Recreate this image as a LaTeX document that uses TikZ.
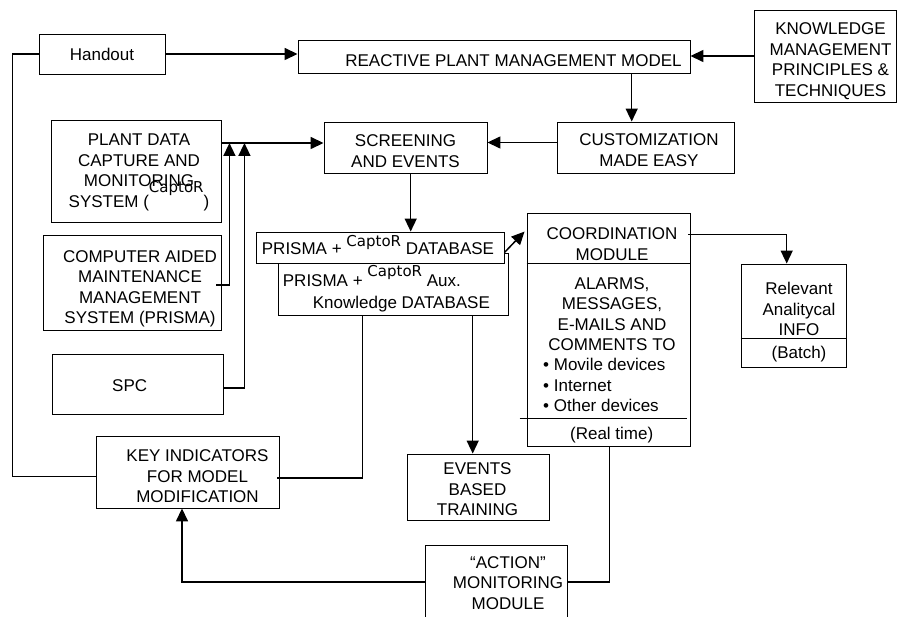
\documentclass[tikz,border=0pt]{standalone}
\usepackage{fontspec}
\setmainfont{Liberation Sans}
\newfontfamily\captorfont{DejaVu Sans}
\usetikzlibrary{arrows.meta,calc}

\newcommand{\captor}{{\captorfont\fontsize{15}{18}\selectfont CaptoR}}

\tikzset{
  box/.style={draw, line width=0.9pt, fill=white, inner sep=0pt},
  txt/.style={inner sep=0pt, align=center, font=\fontsize{17}{20.5}\selectfont},
  conn/.style={line width=1.5pt, -{Triangle[length=13pt,width=12pt]}},
  link/.style={line width=1.1pt},
}

\begin{document}
\begin{tikzpicture}[x=1pt,y=-1pt]
  \useasboundingbox (0,0) rectangle (897,617);

  % boxes
  \node[box, minimum width=126pt, minimum height=40pt] (handout) at (102,54) {};
  \node[box, minimum width=392pt, minimum height=33pt] (rpmm) at (494,56.5) {};
  \node[box, minimum width=142pt, minimum height=92pt] (kmpt) at (825,56) {};
  \node[box, minimum width=177pt, minimum height=51pt] (custom) at (645.5,147.5) {};
  \node[box, minimum width=163pt, minimum height=51pt] (screen) at (405.5,147.5) {};
  \node[box, minimum width=170pt, minimum height=102pt] (plant) at (136,171) {};
  \node[box, minimum width=178pt, minimum height=95pt] (camms) at (132,282.5) {};
  \node[box, minimum width=171pt, minimum height=60pt] (spc) at (137.5,384) {};
  \node[box, minimum width=183pt, minimum height=72pt] (keyind) at (187.5,472) {};
  \node[box, minimum width=230pt, minimum height=62pt] (db2) at (393,284) {};
  \node[box, minimum width=248pt, minimum height=31pt] (db1) at (380,247.5) {};
  \node[box, minimum width=142pt, minimum height=66pt] (events) at (478,487) {};
  \node[box, minimum width=163pt, minimum height=233pt] (coord) at (608.5,329.5) {};
  \node[box, minimum width=105pt, minimum height=103pt] (relevant) at (793.5,315.5) {};
  \node[box, minimum width=142pt, minimum height=74pt] (action) at (496,582) {};

  % dividers
  \draw[link] ($(coord.north west)+(0,51)$) -- ($(coord.north east)+(0,51)$);
  \draw[link] ($(coord.south west)+(-7,-28)$) -- ($(coord.south east)+(-3,-28)$);
  \draw[link] ($(relevant.north west)+(0,75)$) -- ($(relevant.north east)+(0,75)$);

  % texts
  \node[txt] (handout-t) at (102,54) {Handout};
  \node[txt] (rpmm-t) at (513.5,61) {REACTIVE PLANT MANAGEMENT MODEL};
  \node[txt] (kmpt-t) at (830.5,61) {KNOWLEDGE\\MANAGEMENT\\PRINCIPLES \&\\TECHNIQUES};
  \node[txt] (custom-t) at (649,150) {CUSTOMIZATION\\MADE EASY};
  \node[txt] (screen-t) at (405.5,151) {SCREENING\\AND EVENTS};
  \node[txt] (plant-t) at (139,172.5) {PLANT DATA\\CAPTURE AND\\MONITORING\\SYSTEM (\raisebox{15pt}[0pt][0pt]{\captor})};
  \node[txt] (camms-t) at (140,289) {COMPUTER AIDED\\MAINTENANCE\\MANAGEMENT\\SYSTEM (PRISMA)};
  \node[txt] (spc-t) at (129.7,386) {SPC};
  \node[txt] (keyind-t) at (197.5,476.5) {KEY INDICATORS\\FOR MODEL\\MODIFICATION};
  \node[txt] (events-t) at (477.5,489.5) {EVENTS\\BASED\\TRAINING};
  \node[txt] (action-t) at (508,583) {“ACTION”\\MONITORING\\MODULE};
  \node[txt, anchor=base west] (db1-t) at (261.7,255) {PRISMA + \raisebox{8pt}{\captor} DATABASE};
  \node[txt, anchor=base west] (db2-t1) at (282.7,286.7) {PRISMA + \raisebox{10pt}{\captor} Aux.};
  \node[txt, anchor=base west] (db2-t2) at (312.7,308.3) {Knowledge DATABASE};
  \node[txt] (coord-t1) at (612,244) {COORDINATION\\MODULE};
  \node[txt] (coord-t2) at (612,314) {ALARMS,\\MESSAGES,\\E-MAILS AND\\COMMENTS TO};
  \node[txt, align=left, anchor=north west] (coord-t3) at (543,358.4) {• Movile devices\\• Internet\\• Other devices};
  \node[txt, anchor=base] (coord-t4) at (611.7,439) {(Real time)};
  \node[txt] (rel-t1) at (799,309.3) {Relevant\\Analitycal\\INFO};
  \node[txt, anchor=base] (rel-t2) at (799,358.5) {(Batch)};

  % connectors
  \draw[conn] (handout.east) -- (handout.east -| rpmm.west);
  \draw[conn] (kmpt.west) -- (kmpt.west -| rpmm.east);
  \draw[conn] ($(rpmm.south)+(137.7,0)$) -- ($(custom.north)+(-13.8,0)$);
  \draw[conn] ($(custom.west)+(0,-5)$) -- ($(screen.east)+(0,-5)$);
  \draw[conn] ($(plant.east)+(0,-28)$) -- ($(screen.west)+(0,-4.5)$);
  \coordinate (up1) at ($(plant.east)+(8,-28)$);
  \coordinate (up2) at ($(plant.east)+(23,-28)$);
  \draw[conn] ($(camms.east)+(-5,2.5)$) -| (up1);
  \draw[conn] ($(spc.east)+(0,4)$) -| (up2);
  \draw[conn] ($(screen.south)+(5.2,0)$) -- ($(db1.north)+(30.7,0)$);
  \draw[conn] ($(db1.east)+(0,5)$) -- ($(coord.north west)+(-2,19)$);
  \draw[conn] ($(coord.north east)+(-2,22)$) -| ($(relevant.north)+(-6.8,0)$);
  \draw[link] ($(db2.south west)+(85,0)$) |- ($(keyind.east)+(-2,6)$);
  \draw[conn] ($(db2.south)+(79.7,0)$) -- ($(events.north)+(-5.3,0)$);
  \draw[link] ($(coord.south)+(0.8,0)$) |- (action.east);
  \draw[conn] (action.west) -| ($(keyind.south)+(-5.5,0)$);
  \draw[link] ($(keyind.west)+(0,4.5)$) -- ++(-83,0) |- (handout.west);
\end{tikzpicture}
\end{document}
